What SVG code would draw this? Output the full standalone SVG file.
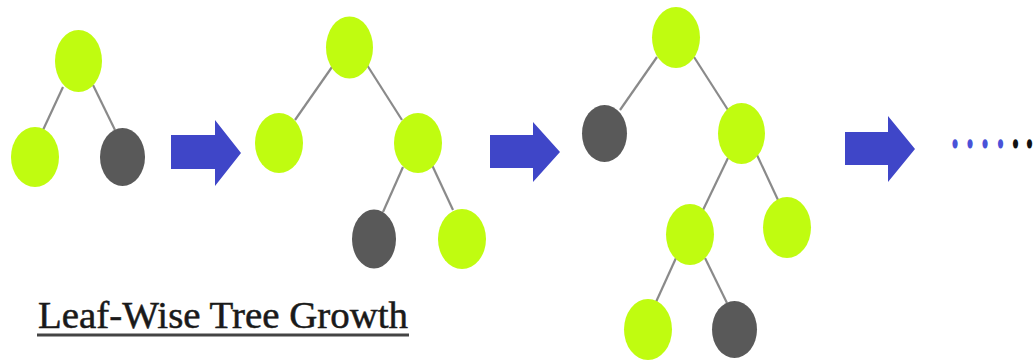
<svg xmlns="http://www.w3.org/2000/svg" width="1036" height="364" viewBox="0 0 1036 364">
  <style>
    .leaf { fill: #c0fc10; }
    .stop { fill: #595959; }
    .edge { stroke: #8a8a8a; stroke-width: 2.2; fill: none; }
    .step { fill: #3f46c8; }
    .caption { font-family: "Liberation Serif", "DejaVu Serif", serif; font-size: 37px; fill: #1a1a1a; stroke: #1a1a1a; stroke-width: 0.5px; }
    .dots { font-family: "Liberation Serif", "DejaVu Serif", serif; font-size: 32px; font-weight: bold; }
  </style>
  <rect width="1036" height="364" fill="#ffffff"/>

  <!-- connectors: tree edges and step arrows -->
  <g id="connectors">
    <!-- tree 1 -->
    <line class="edge" x1="63" y1="87" x2="43" y2="130"/>
    <line class="edge" x1="93" y1="85" x2="115" y2="130"/>
    <!-- tree 2 -->
    <line class="edge" x1="332" y1="67" x2="295" y2="120"/>
    <line class="edge" x1="367" y1="65" x2="402" y2="120"/>
    <line class="edge" x1="403" y1="167" x2="383" y2="212"/>
    <line class="edge" x1="432" y1="165" x2="453" y2="210"/>
    <!-- tree 3 -->
    <line class="edge" x1="657" y1="57" x2="620" y2="110"/>
    <line class="edge" x1="694" y1="57" x2="728" y2="110"/>
    <line class="edge" x1="728" y1="158" x2="703" y2="210"/>
    <line class="edge" x1="757" y1="155" x2="778" y2="200"/>
    <line class="edge" x1="676" y1="258" x2="656" y2="302"/>
    <line class="edge" x1="705" y1="258" x2="727" y2="303"/>
    <!-- step arrows -->
    <polygon class="step" points="171,135 215,135 215,120 241,153 215,186 215,169 171,169"/>
    <polygon class="step" points="490,135 533,135 533,122 560,152 533,182 533,168 490,168"/>
    <polygon class="step" points="845,132 888,132 888,116 915,149 888,182 888,165 845,165"/>
  </g>

  <!-- tree 1 -->
  <g id="t1-root"><ellipse class="leaf" cx="78.5" cy="61" rx="23.5" ry="31"/></g>
  <g id="t1-left"><ellipse class="leaf" cx="35" cy="157" rx="24" ry="30"/></g>
  <g id="t1-right"><ellipse class="stop" cx="122.5" cy="157" rx="22.5" ry="29"/></g>

  <!-- tree 2 -->
  <g id="t2-root"><ellipse class="leaf" cx="349.5" cy="47.5" rx="23.5" ry="31"/></g>
  <g id="t2-left"><ellipse class="leaf" cx="279" cy="143" rx="24" ry="30"/></g>
  <g id="t2-right"><ellipse class="leaf" cx="418" cy="143" rx="24" ry="30"/></g>
  <g id="t2-right-left"><ellipse class="stop" cx="374" cy="239" rx="22" ry="29.5"/></g>
  <g id="t2-right-right"><ellipse class="leaf" cx="462" cy="239" rx="24" ry="30"/></g>

  <!-- tree 3 -->
  <g id="t3-root"><ellipse class="leaf" cx="676" cy="37.5" rx="24" ry="30.5"/></g>
  <g id="t3-left"><ellipse class="stop" cx="604.5" cy="133.5" rx="22.5" ry="28.5"/></g>
  <g id="t3-right"><ellipse class="leaf" cx="741.5" cy="133.5" rx="23.5" ry="30.5"/></g>
  <g id="t3-right-left"><ellipse class="leaf" cx="690" cy="234.5" rx="24" ry="30.5"/></g>
  <g id="t3-right-right"><ellipse class="leaf" cx="787" cy="227.5" rx="24" ry="30.5"/></g>
  <g id="t3-rl-left"><ellipse class="leaf" cx="648" cy="329.5" rx="24" ry="30.5"/></g>
  <g id="t3-rl-right"><ellipse class="stop" cx="734.5" cy="329.5" rx="22.5" ry="28.5"/></g>

  <!-- continuation dots, stretched vertically -->
  <g id="continuation" transform="translate(0,144) scale(1,1.8)">
    <text class="dots" x="951 966 981 996.5 1011.5 1025.5" y="2.4"><tspan fill="#4a52d8">....</tspan><tspan fill="#111">..</tspan></text>
  </g>

  <!-- caption -->
  <g id="caption">
    <text class="caption" x="38" y="328" textLength="370" lengthAdjust="spacingAndGlyphs">Leaf-Wise Tree Growth</text>
    <rect x="37" y="333.5" width="372" height="3" fill="#444"/>
  </g>
</svg>
